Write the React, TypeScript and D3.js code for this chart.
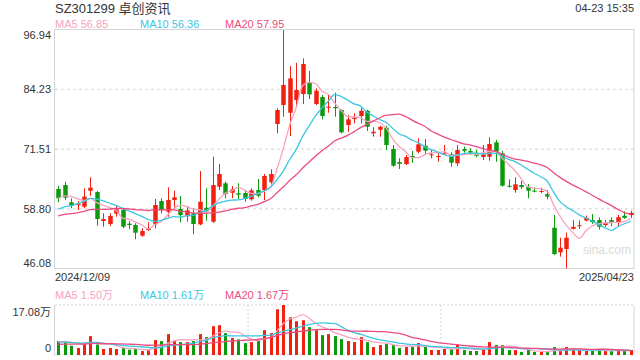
import React from "react";
import * as d3 from "d3";

const title = "SZ301299 卓创资讯";
const timeLabel = "04-23 15:35";
const dateLabels = ["2024/12/09", "2025/04/23"];
const priceTicks = [96.94, 84.23, 71.51, 58.8, 46.08];
const priceTickLabels = ["96.94", "84.23", "71.51", "58.80", "46.08"];
const volMax = 17.08;
const volTickLabels = ["17.08万", "0"];
const maNames = ["MA5", "MA10", "MA20"];
const maPeriods = [5, 10, 20];
const priceMaValues = ["56.85", "56.36", "57.95"];
const volMaValues = ["1.50万", "1.61万", "1.67万"];
const watermark = "sina.com";

const opens = [
  63.03, 63.88, 60.19, 59.7, 59.26, 62.67, 62.39, 56.21, 55.57, 57.76,
  58.55, 55.63, 55.35, 53.07, 54.29, 55.5, 60.47, 58.19, 60.69, 58.77,
  57.21, 57.85, 55.5, 59.04, 56.06, 63.52, 64.25, 62.24, 62.11, 62.18,
  60.83, 62.82, 62.82, 64.46, 76.89, 80.94, 79.3, 82.01, 83.29, 85.7,
  81.15, 82.65, 80.37, 80.52, 79.88, 76.68, 77.96, 78.6, 79.73, 74.91,
  75.67, 76.1, 71.56, 68.79, 68.36, 70.07, 70.98, 72.26, 70.22, 69.85,
  70.49, 70.43, 68.51, 71.56, 71.13, 70.77, 69.85, 69.92, 72.99, 70.64,
  63.73, 62.82, 63.88, 63.52, 62.67, 62.39, 61.97, 54.78, 49.53, 50.24,
  54.54, 55.1, 56.31, 56.41, 56.41, 55.34, 56.41, 55.92, 57.32, 57.47,
];
const highs = [
  63.73, 64.59, 61.05, 60.47, 63.18, 65.53, 62.6, 57.85, 57.85, 59.41,
  58.92, 56.21, 55.72, 54.65, 55.93, 60.9, 61.05, 63.39, 62.67, 61.54,
  59.41, 58.92, 66.87, 63.18, 69.92, 68.36, 64.59, 63.67, 64.25, 62.82,
  63.18, 65.16, 66.23, 67.23, 80.24, 96.94, 89.26, 89.96, 90.9, 88.19,
  84.5, 83.07, 83.29, 83.56, 80.02, 78.81, 79.17, 80.37, 79.88, 76.19,
  76.53, 76.53, 72.41, 69.58, 70.28, 71.13, 73.84, 73.69, 71.5, 70.64,
  72.41, 70.86, 72.41, 72.05, 71.71, 71.35, 72.41, 74.05, 73.48, 71.13,
  65.1, 65.53, 64.74, 64.1, 63.39, 63.31, 62.82, 57.49, 52.65, 53.71,
  56.37, 56.31, 57.37, 57.69, 56.98, 56.41, 56.98, 57.54, 58.26, 58.39,
];
const lows = [
  60.19, 60.69, 58.92, 58.55, 58.92, 61.6, 55.21, 54.99, 55.14, 57.12,
  54.72, 54.5, 52.31, 52.86, 54.08, 54.65, 57.85, 57.12, 58.77, 55.93,
  56.06, 53.37, 55.3, 56.27, 55.78, 62.82, 61.05, 61.05, 60.83, 60.32,
  60.54, 61.26, 60.69, 63.67, 74.91, 78.45, 74.33, 80.58, 81.15, 82.22,
  80.94, 77.89, 79.3, 78.45, 74.91, 75.25, 77.04, 77.04, 75.4, 74.18,
  74.18, 71.35, 67.79, 67.3, 68.15, 68.64, 70.64, 70.49, 69.58, 68.85,
  70.28, 67.79, 67.94, 70.77, 70.28, 69.79, 69.21, 69.06, 68.85, 63.52,
  63.31, 62.24, 63.03, 61.05, 62.33, 62.18, 60.83, 48.96, 48.6, 46.08,
  54.39, 54.54, 56.16, 55.6, 54.39, 54.96, 55.09, 55.09, 56.67, 56.88,
];
const closes = [
  61.05, 61.18, 59.47, 59.8, 61.39, 63.31, 56.63, 56.63, 57.27, 58.7,
  54.99, 55.35, 53.71, 54.08, 54.5, 59.62, 58.55, 60.69, 61.26, 57.49,
  58.49, 55.57, 60.32, 58.4, 63.88, 66.23, 61.97, 62.97, 61.82, 60.9,
  62.75, 61.6, 65.8, 66.23, 79.88, 85.21, 86.63, 84.14, 89.68, 83.22,
  83.99, 78.6, 80.58, 80.24, 75.12, 77.89, 78.24, 79.73, 76.31, 75.25,
  76.31, 72.41, 68.0, 68.43, 69.85, 69.85, 72.56, 71.2, 70.43, 70.07,
  70.64, 68.64, 71.35, 71.2, 70.77, 70.13, 70.43, 72.63, 70.98, 63.73,
  63.52, 64.03, 63.46, 62.67, 62.46, 62.6, 61.39, 49.17, 50.51, 52.65,
  54.96, 55.31, 56.88, 55.95, 54.96, 55.82, 55.82, 57.01, 56.88, 57.95,
];
const volumes = [
  4.75, 4.75, 3.17, 2.38, 3.96, 6.45, 3.62, 2.04, 2.38, 2.04,
  2.49, 1.81, 2.04, 1.36, 1.58, 5.09, 4.75, 7.13, 4.98, 4.41,
  4.41, 4.75, 7.13, 6.11, 9.84, 10.18, 7.47, 5.77, 5.32, 4.07,
  4.41, 5.2, 8.48, 7.47, 15.61, 17.08, 12.9, 11.54, 11.88, 9.5,
  8.48, 6.79, 7.13, 6.45, 5.43, 4.75, 4.41, 6.11, 4.41, 2.71,
  3.39, 3.73, 3.39, 2.38, 2.71, 2.71, 4.07, 2.71, 1.7, 1.7,
  2.04, 2.04, 3.39, 1.7, 1.36, 1.36, 2.04, 4.41, 3.39, 3.39,
  1.7, 1.7, 1.02, 1.7, 1.02, 1.02, 1.13, 2.71, 1.7, 2.71,
  2.04, 1.7, 1.36, 1.36, 1.7, 1.36, 1.36, 1.7, 1.36, 1.7,
];
// sessions before the visible window, only used to warm up the moving averages
const priorCloses = [
  55.2, 55.8, 56.5, 55.4, 56.0, 55.6, 56.3, 55.9, 56.1, 56.2,
  56.0, 56.8, 55.9, 56.6, 56.7, 58.5, 60.2, 62.3, 63.2,
];
const priorVolumes = [
  2.6, 3.1, 2.8, 3.3, 2.7, 2.9, 3.0, 2.6, 3.2, 2.8,
  3.9, 4.3, 4.0, 4.4, 3.9, 4.2, 4.6, 4.3, 4.65,
];

const W = 640;
const H = 360;
const left = 55;
const right = 634;
const mainTop = 30;
const mainBottom = 268.5;
const volTop = 305;
const volBottom = 355;

const RED = "#f2200f";
const GREEN = "#0c9a0c";
const MA_COLORS = ["#f7a3c0", "#3cc6e2", "#ec4b80"];
const FONT = "'Liberation Sans', Arial, 'Noto Sans CJK SC', sans-serif";

function movingAverage(prior: number[], values: number[], n: number): number[] {
  const all = prior.concat(values);
  const off = prior.length;
  return values.map((_, i) => {
    const j = i + off;
    const slice = all.slice(Math.max(0, j - n + 1), j + 1);
    return d3.mean(slice) as number;
  });
}

export default function App() {
  const idx = d3.range(closes.length);
  const x = d3.scaleBand<number>().domain(idx).range([left, right]).paddingInner(0.3).paddingOuter(0.15);
  const y = d3.scaleLinear().domain([46.08, 96.94]).range([mainBottom, mainTop]);
  const yv = d3.scaleLinear().domain([0, volMax]).range([volBottom, volTop]);
  const cx = (i: number) => (x(i) as number) + x.bandwidth() / 2;

  const priceMAs = maPeriods.map((p) => movingAverage(priorCloses, closes, p));
  const volMAs = maPeriods.map((p) => movingAverage(priorVolumes, volumes, p));
  const linePrice = d3.line<number>().x((_, i) => cx(i)).y((d) => y(d)).curve(d3.curveMonotoneX);
  const lineVol = d3.line<number>().x((_, i) => cx(i)).y((d) => yv(d)).curve(d3.curveMonotoneX);

  const bw = x.bandwidth();
  const third = (right - left) / 3;

  return (
    <svg width={W} height={H} style={{ position: "fixed", left: 0, top: 0, background: "#fff" }} fontFamily={FONT}>
      <rect x={0} y={0} width={W} height={H} fill="#fff" />
      {/* header */}
      <text x={55} y={13} fontSize={13} fill="#333">{title}</text>
      <text x={right} y={12} fontSize={11} fill="#333" textAnchor="end">{timeLabel}</text>
      {maNames.map((n, k) => (
        <text key={n} x={55 + k * 85} y={28} fontSize={11} fill={MA_COLORS[k]}>{`${n} ${priceMaValues[k]}`}</text>
      ))}

      {/* main pane grid */}
      {priceTicks.slice(1, 4).map((v) => (
        <line key={v} x1={left} x2={right} y1={y(v)} y2={y(v)} stroke="#e2e2e2" strokeWidth={1.5} strokeDasharray="3,3" />
      ))}
      <rect x={left - 0.5} y={mainTop - 0.5} width={right - left + 0.5} height={mainBottom - mainTop + 0.5} fill="none" stroke="#d4d4d4" />
      {priceTicks.map((v, k) => {
        const yy = k === 0 ? y(v) + 5 : k === priceTicks.length - 1 ? y(v) - 5 : y(v);
        return (
          <text key={v} x={51} y={yy} dy="0.35em" fontSize={11} fill="#333" textAnchor="end">{priceTickLabels[k]}</text>
        );
      })}

      <text x={583} y={254} fontSize={12} fill="#d9d9d9">{watermark}</text>

      {/* candles */}
      {idx.map((i) => {
        const up = closes[i] >= opens[i];
        const c = up ? RED : GREEN;
        const top = y(Math.max(opens[i], closes[i]));
        const bot = y(Math.min(opens[i], closes[i]));
        const xc = Math.round(cx(i)) + 0.5;
        return (
          <g key={i}>
            <line x1={xc} x2={xc} y1={y(highs[i])} y2={y(lows[i])} stroke={c} strokeWidth={1} />
            <rect x={xc - bw / 2} y={top} width={bw} height={Math.max(1, bot - top)} fill={c} />
          </g>
        );
      })}
      {priceMAs.map((s, k) => (
        <path key={k} d={linePrice(s) as string} fill="none" stroke={MA_COLORS[k]} strokeWidth={1.3} />
      ))}

      {/* date labels */}
      <text x={left} y={281} fontSize={11} fill="#333">{dateLabels[0]}</text>
      <text x={right} y={281} fontSize={11} fill="#333" textAnchor="end">{dateLabels[1]}</text>

      {/* volume pane */}
      {maNames.map((n, k) => (
        <text key={n} x={55 + k * 85} y={299} fontSize={11} fill={MA_COLORS[k]}>{`${n} ${volMaValues[k]}`}</text>
      ))}
      <line x1={left} x2={right} y1={volTop} y2={volTop} stroke="#d4d4d4" strokeDasharray="2,2" />
      <line x1={left} x2={right} y1={volBottom} y2={volBottom} stroke="#d4d4d4" strokeDasharray="2,2" />
      <line x1={left + third} x2={left + third} y1={volTop} y2={volBottom} stroke="#d4d4d4" strokeDasharray="2,2" />
      <line x1={left + 2 * third} x2={left + 2 * third} y1={volTop} y2={volBottom} stroke="#d4d4d4" strokeDasharray="2,2" />
      <line x1={right} x2={right} y1={volTop} y2={volBottom} stroke="#d4d4d4" />
      <line x1={left - 0.5} x2={left - 0.5} y1={volTop} y2={volBottom} stroke="#d4d4d4" />
      <text x={51} y={yv(volMax) + 7} dy="0.35em" fontSize={11} fill="#333" textAnchor="end">{volTickLabels[0]}</text>
      <text x={51} y={yv(0) - 7} dy="0.35em" fontSize={11} fill="#333" textAnchor="end">{volTickLabels[1]}</text>
      {idx.map((i) => {
        const up = closes[i] >= opens[i];
        const xc = Math.round(cx(i)) + 0.5;
        const w = 3;
        return (
          <rect key={i} x={xc - w / 2} y={yv(volumes[i])} width={w} height={yv(0) - yv(volumes[i])} fill={up ? RED : GREEN} />
        );
      })}
      {volMAs.map((s, k) => (
        <path key={k} d={lineVol(s) as string} fill="none" stroke={MA_COLORS[k]} strokeWidth={1.3} />
      ))}
    </svg>
  );
}
